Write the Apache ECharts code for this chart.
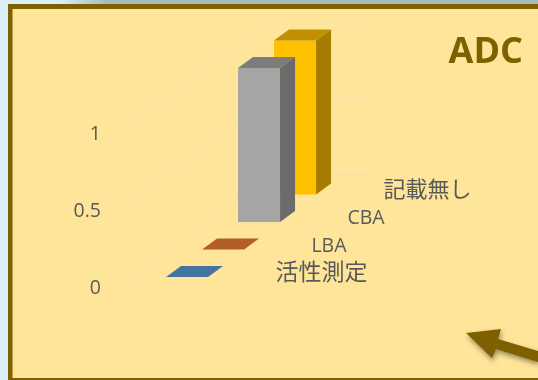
<!DOCTYPE html>
<html>
<head>
<meta charset="utf-8">
<style>html,body{margin:0;padding:0;background:#DAEEF8}#chart{width:538px;height:380px}</style>
<script src="https://cdn.jsdelivr.net/npm/echarts@6/dist/echarts.min.js"></script>
</head>
<body>
<div id="chart"></div>
<script>
// Assay categories, front to back, and the count for each
const categories = ['活性測定', 'LBA', 'CBA', '記載無し'];
const values = [0, 0, 1, 1];
const seriesColors = ['#5B9BD5', '#ED7D31', '#A5A5A5', '#FFC000'];
const tickValues = [0, 0.5, 1];
const labelSizes = [23, 19.5, 19.5, 22];
const title = 'ADC';

// Oblique projection of the floor: how far a unit of depth moves on screen
const WALL_DX = 148, WALL_DY = -110, WALL_RUN = 104;
const STEP_DX = 36, STEP_DY = -27.5, FIRST_DEPTH = 0.29;
const BAR_DX = 15, BAR_DY = -11;
const BAR_LEFT = 0.323, BAR_RIGHT = 0.727;

function shade(hex, k) {
  const n = parseInt(hex.slice(1), 16);
  const c = [n >> 16, (n >> 8) & 255, n & 255].map(v => Math.round(v * k));
  return 'rgb(' + c.join(',') + ')';
}

function poly(points, fill) {
  return { type: 'polygon', shape: { points }, style: { fill }, silent: true };
}

// One 3D column: front, side and top faces plus its category text on the floor
function renderBar(params, api) {
  const i = api.value(0), v = api.value(1);
  const ox = (i + FIRST_DEPTH) * STEP_DX, oy = (i + FIRST_DEPTH) * STEP_DY;
  const p = (lat, val) => {
    const c = api.coord([lat, val]);
    return [c[0] + ox, c[1] + oy];
  };
  const bl = p(BAR_LEFT, 0), br = p(BAR_RIGHT, 0);
  const tl = p(BAR_LEFT, v), tr = p(BAR_RIGHT, v);
  const back = q => [q[0] + BAR_DX, q[1] + BAR_DY];
  const color = seriesColors[i];
  const children = [];
  if (v > 0) {
    children.push(poly([bl, br, tr, tl], color));
    children.push(poly([br, back(br), back(tr), tr], shade(color, 0.65)));
  }
  children.push(poly([tl, tr, back(tr), back(tl)], shade(color, 0.75)));
  const floorEnd = p(1, 0);
  children.push({
    type: 'text', silent: true,
    style: {
      x: floorEnd[0] + 39, y: floorEnd[1] - 3.5,
      text: categories[i],
      fill: '#595959',
      align: 'left', verticalAlign: 'middle',
      font: labelSizes[i] + 'px "Open Sans","Noto Sans CJK JP",sans-serif'
    }
  });
  return { type: 'group', children };
}

// Gridline for one tick: across the side wall, then along the back wall
function renderGridline(params, api) {
  const a = api.coord([0, api.value(0)]);
  const b = [a[0] + WALL_DX, a[1] + WALL_DY];
  return {
    type: 'polyline', silent: true,
    shape: { points: [a, b, [b[0] + WALL_RUN, b[1]]] },
    style: { fill: 'none', stroke: '#EEDFB0', lineWidth: 1 }
  };
}

const frameColor = '#7F6000';
const chart = echarts.init(document.getElementById('chart'), null, { renderer: 'canvas' });
chart.setOption({
  animation: false,
  backgroundColor: '#DAEEF8',
  title: {
    text: title, right: 10, top: 30,
    textStyle: { color: frameColor, fontSize: 36, fontWeight: 'bold', fontFamily: '"Open Sans",sans-serif' }
  },
  grid: { left: 122, top: 131, width: WALL_RUN, height: 154 },
  xAxis: { type: 'value', min: 0, max: 1, show: false },
  yAxis: {
    type: 'value', min: 0, max: 1, interval: 0.5,
    axisLine: { show: false }, axisTick: { show: false }, splitLine: { show: false },
    axisLabel: {
      margin: 21, color: '#595959', fontSize: 19.5,
      fontFamily: '"Open Sans",sans-serif',
      verticalAlign: 'top', lineHeight: 6,
      formatter: v => String(v)
    }
  },
  graphic: [
    { type: 'rect', z: -20, silent: true, shape: { x: 60, y: 0, width: 478, height: 4 },
      style: { fill: new echarts.graphic.LinearGradient(0, 0, 1, 0, [
        { offset: 0, color: '#DAEEF8' }, { offset: 0.1, color: '#A9B8BE' }, { offset: 1, color: '#A9B8BE' }]) } },
    { type: 'rect', z: -19, silent: true, shape: { x: 8, y: 4, width: 530, height: 376 }, style: { fill: frameColor } },
    { type: 'rect', z: -18, silent: true, shape: { x: 12.5, y: 9, width: 526, height: 369 }, style: { fill: '#FFE599' } },
    { type: 'polygon', z: 30, silent: true,
      shape: { points: [[466, 333], [501, 329], [498, 339], [538, 351], [538, 362], [496, 349], [492, 358]] },
      style: { fill: frameColor, shadowBlur: 5, shadowColor: 'rgba(0,0,0,0.4)', shadowOffsetX: 1, shadowOffsetY: 3 } }
  ],
  series: [
    { type: 'custom', coordinateSystem: 'cartesian2d', z: 2, silent: true,
      renderItem: renderGridline, data: tickValues.map(v => [v]), encode: { y: 0 } },
    { type: 'custom', coordinateSystem: 'cartesian2d', z: 3, silent: true,
      renderItem: renderBar,
      // painted back to front so nearer columns cover farther ones
      data: categories.map((c, i) => [i, values[i]]).reverse(),
      encode: { y: 1 } }
  ]
});
</script>
</body>
</html>
